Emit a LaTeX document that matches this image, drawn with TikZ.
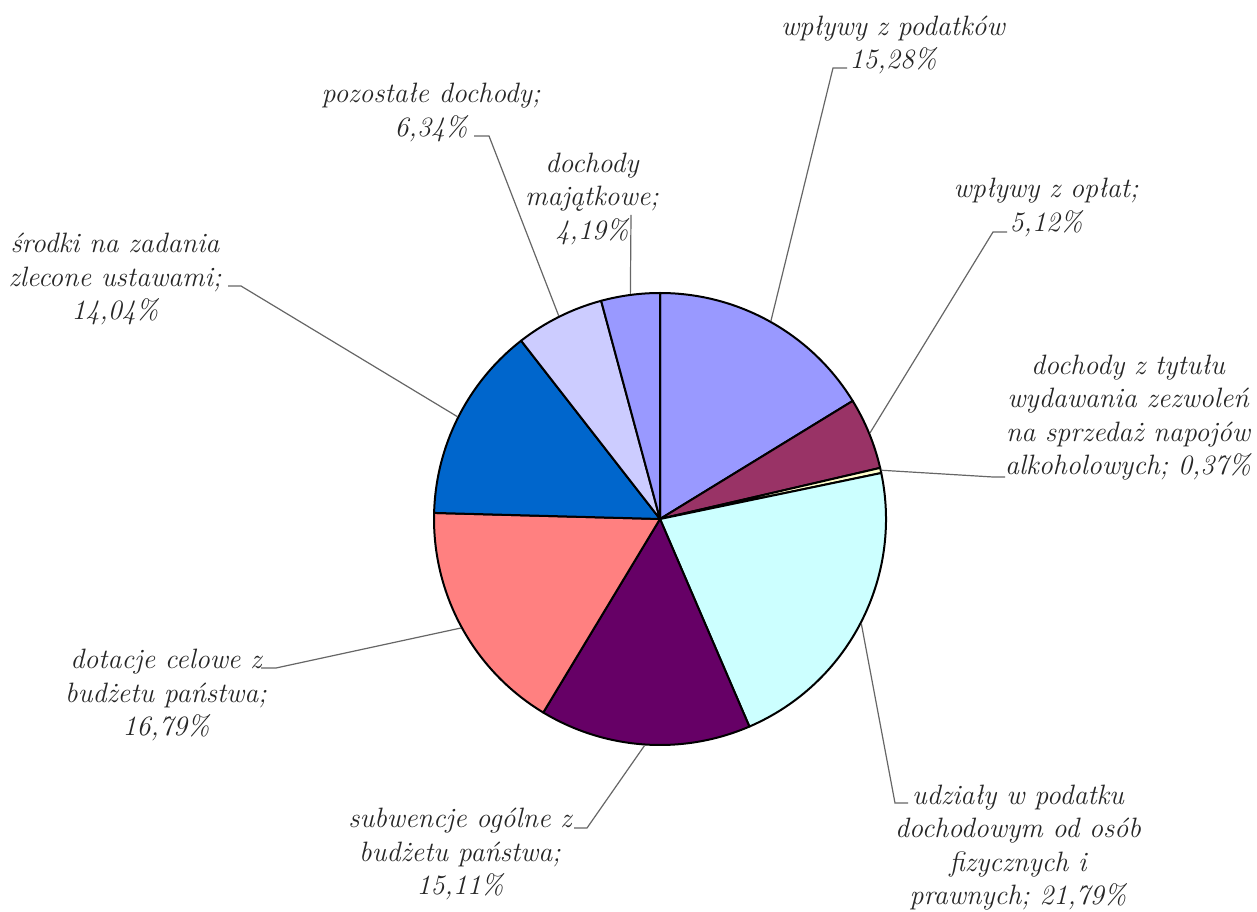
\documentclass[tikz,border=0pt]{standalone}
\usepackage{tikz}
\usetikzlibrary{calc}
\def\pieslice[#1](#2)(#3:#4:#5){\filldraw[#1] (#2) -- ($(#2)+(#3:#5)$) arc (#3:#4:#5) -- cycle;}

\definecolor{podatkiblue}{HTML}{9999FF}
\definecolor{oplatymauve}{HTML}{993366}
\definecolor{zezwolyellow}{HTML}{FFFFCC}
\definecolor{udzialycyan}{HTML}{CCFFFF}
\definecolor{subwpurple}{HTML}{660066}
\definecolor{dotacjered}{HTML}{FF8080}
\definecolor{srodkiblue}{HTML}{0066CC}
\definecolor{pozostlav}{HTML}{CCCCFF}

\tikzset{
  lbl/.style={font=\fontsize{14}{16.75}\selectfont\itshape, align=center, text=black!85, inner sep=0pt},
  leader/.style={draw=black!60, line width=0.6pt},
  slice/.style={draw=black, line width=1pt, line join=round}
}

\begin{document}
\begin{tikzpicture}[x=0.5pt,y=0.5pt]
		%%%%% START %%%%%
		\useasboundingbox (0,0) rectangle (1257,911);
		\coordinate (c) at (660,392);
		
		\pieslice[slice, fill=podatkiblue](c)(90:31.5:226)
		\pieslice[slice, fill=oplatymauve](c)(31.5:13.07:226)
		\pieslice[slice, fill=zezwolyellow](c)(13.07:11.74:226)
		\pieslice[slice, fill=udzialycyan](c)(11.74:-66.7:226)
		\pieslice[slice, fill=subwpurple](c)(-66.7:-121.1:226)
		\pieslice[slice, fill=dotacjered](c)(-121.1:-181.54:226)
		\pieslice[slice, fill=srodkiblue](c)(-181.54:-232.08:226)
		\pieslice[slice, fill=pozostlav](c)(-232.08:-254.9:226)
		\pieslice[slice, fill=podatkiblue](c)(-254.9:-270:226)
		
		\node[lbl] (podL) at (893,866) {wpływy z podatków\\15,28\%};
		\node[lbl] (oplL) at (1046,703.5) {wpływy z opłat;\\5,12\%};
		\node[lbl] (tytL) at (1128,493.5) {dochody z tytułu\\wydawania zezwoleń\\na sprzedaż napojów\\alkoholowych; 0,37\%};
		\node[lbl] (udzL) at (1018,63.5) {udziały w podatku\\dochodowym od osób\\fizycznych i\\prawnych; 21,79\%};
		\node[lbl] (subL) at (460,57) {subwencje ogólne z\\budżetu państwa;\\15,11\%};
		\node[lbl] (dotL) at (166,216) {dotacje celowe z\\budżetu państwa;\\16,79\%};
		\node[lbl] (sroL) at (115,632) {środki na zadania\\zlecone ustawami;\\14,04\%};
		\node[lbl] (pozL) at (431,798.5) {pozostałe dochody;\\6,34\%};
		\node[lbl] (majL) at (592,712) {dochody\\majątkowe;\\4,19\%};
		
		\coordinate (podE) at ($(c)+(60.75:227)$);
		\coordinate (oplE) at ($(c)+(22.3:227)$);
		\coordinate (tytE) at ($(c)+(12.4:227)$);
		\coordinate (udzE) at ($(c)+(-27.5:227)$);
		\coordinate (subE) at ($(c)+(266.1:227)$);
		\coordinate (dotE) at ($(c)+(208.7:227)$);
		\coordinate (sroE) at ($(c)+(153.2:227)$);
		\coordinate (pozE) at ($(c)+(116.5:227)$);
		\coordinate (majE) at ($(c)+(97.5:227)$);
		
		\coordinate (podT) at (847,843);
		\coordinate (oplT) at (1007,679);
		\coordinate (tytT) at (1005,434);
		\coordinate (udzT) at (908,108);
		\coordinate (subT) at (574,83);
		\coordinate (dotT) at (261,243);
		\coordinate (sroT) at (228,625);
		\coordinate (pozT) at (474,775);
		\coordinate (majT) at (631,696);
		
		\draw[leader] (podT) -- ++(-14,0) -- (podE);
		\draw[leader] (oplT) -- ++(-14,0) -- (oplE);
		\draw[leader] (tytT) -- ++(-12,0) -- (tytE);
		\draw[leader] (udzT) -- ++(-13,0) -- (udzE);
		\draw[leader] (subT) -- ++(13,0) -- (subE);
		\draw[leader] (dotT) -- ++(15,0) -- (dotE);
		\draw[leader] (sroT) -- ++(13,0) -- (sroE);
		\draw[leader] (pozT) -- ++(15,0) -- (pozE);
		\draw[leader] (majT) -- (majE);
		
		%%%%% END %%%%%
	\end{tikzpicture}
\end{document}
